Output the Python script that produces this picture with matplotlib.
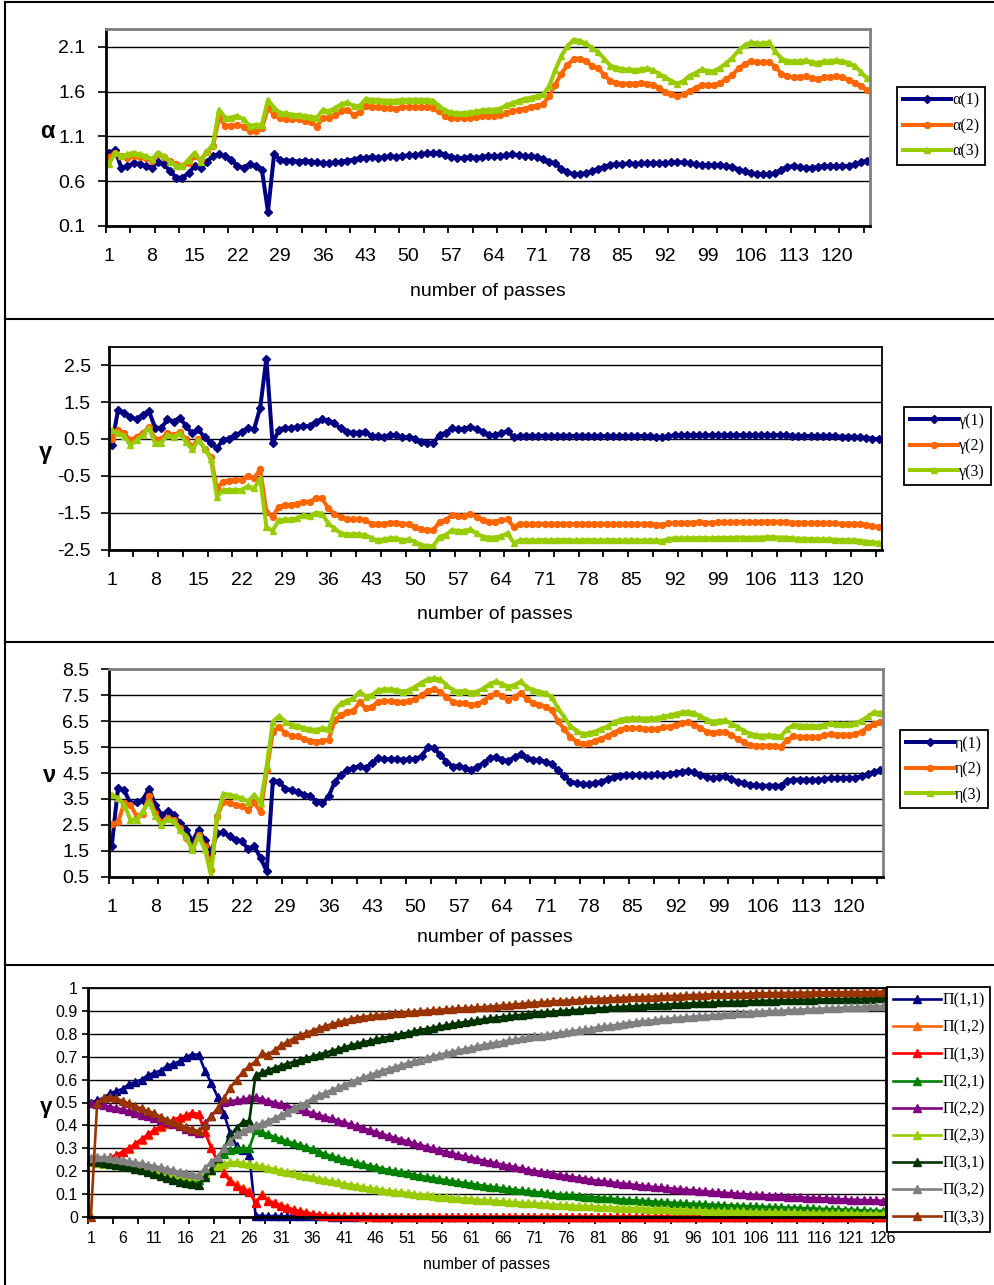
import matplotlib.pyplot as plt
from matplotlib.lines import Line2D
from matplotlib.font_manager import FontProperties

plt.rcParams['font.family'] = ['Liberation Sans', 'DejaVu Sans']

# categories (number of passes)
passes = list(range(1, 126))
passes_pi = list(range(1, 127))

# alpha panel
alpha_1 = [0.91, 0.95, 0.75, 0.77, 0.80, 0.79, 0.77, 0.75, 0.82, 0.79,
           0.71, 0.64, 0.64, 0.69, 0.77, 0.75, 0.82, 0.88, 0.90, 0.88,
           0.84, 0.77, 0.75, 0.79, 0.77, 0.73, 0.26, 0.90, 0.84, 0.83,
           0.83, 0.82, 0.83, 0.82, 0.81, 0.80, 0.80, 0.81, 0.82, 0.83,
           0.84, 0.86, 0.86, 0.87, 0.86, 0.87, 0.88, 0.87, 0.88, 0.89,
           0.89, 0.90, 0.91, 0.91, 0.92, 0.89, 0.87, 0.86, 0.86, 0.87,
           0.86, 0.87, 0.88, 0.88, 0.88, 0.89, 0.90, 0.89, 0.88, 0.88,
           0.87, 0.85, 0.82, 0.80, 0.74, 0.70, 0.68, 0.68, 0.69, 0.71,
           0.74, 0.76, 0.78, 0.79, 0.79, 0.80, 0.79, 0.80, 0.80, 0.80,
           0.80, 0.80, 0.81, 0.81, 0.81, 0.80, 0.79, 0.78, 0.78, 0.78,
           0.78, 0.77, 0.76, 0.73, 0.71, 0.69, 0.68, 0.68, 0.68, 0.69,
           0.73, 0.76, 0.77, 0.76, 0.75, 0.75, 0.76, 0.77, 0.77, 0.77,
           0.77, 0.77, 0.79, 0.81, 0.83]
alpha_2 = [0.87, 0.92, 0.88, 0.86, 0.88, 0.87, 0.86, 0.83, 0.90, 0.87,
           0.83, 0.79, 0.77, 0.80, 0.88, 0.84, 0.93, 0.99, 1.31, 1.22,
           1.22, 1.23, 1.21, 1.16, 1.16, 1.19, 1.42, 1.34, 1.31, 1.30,
           1.29, 1.29, 1.27, 1.26, 1.21, 1.31, 1.31, 1.34, 1.38, 1.40,
           1.34, 1.37, 1.44, 1.43, 1.43, 1.42, 1.42, 1.41, 1.43, 1.43,
           1.43, 1.43, 1.43, 1.42, 1.38, 1.33, 1.31, 1.31, 1.31, 1.31,
           1.32, 1.33, 1.33, 1.33, 1.34, 1.36, 1.38, 1.40, 1.41, 1.43,
           1.44, 1.46, 1.55, 1.68, 1.80, 1.90, 1.96, 1.97, 1.94, 1.89,
           1.86, 1.79, 1.72, 1.70, 1.69, 1.69, 1.69, 1.70, 1.69, 1.68,
           1.64, 1.60, 1.57, 1.55, 1.57, 1.61, 1.64, 1.68, 1.67, 1.67,
           1.70, 1.74, 1.79, 1.86, 1.91, 1.94, 1.93, 1.93, 1.93, 1.88,
           1.80, 1.77, 1.76, 1.76, 1.77, 1.75, 1.74, 1.76, 1.76, 1.77,
           1.76, 1.73, 1.70, 1.66, 1.62]
alpha_3 = [0.79, 0.92, 0.88, 0.90, 0.92, 0.90, 0.88, 0.85, 0.91, 0.88,
           0.82, 0.77, 0.77, 0.84, 0.92, 0.82, 0.93, 1.01, 1.40, 1.31,
           1.31, 1.33, 1.29, 1.22, 1.23, 1.23, 1.51, 1.42, 1.36, 1.36,
           1.34, 1.34, 1.33, 1.32, 1.31, 1.40, 1.38, 1.42, 1.46, 1.48,
           1.44, 1.44, 1.52, 1.51, 1.51, 1.50, 1.50, 1.50, 1.51, 1.51,
           1.51, 1.51, 1.51, 1.50, 1.44, 1.39, 1.37, 1.36, 1.36, 1.37,
           1.38, 1.39, 1.40, 1.40, 1.41, 1.45, 1.47, 1.50, 1.52, 1.53,
           1.55, 1.57, 1.66, 1.84, 2.00, 2.11, 2.18, 2.17, 2.14, 2.09,
           2.04, 1.97, 1.89, 1.87, 1.85, 1.85, 1.84, 1.85, 1.86, 1.84,
           1.80, 1.76, 1.72, 1.69, 1.72, 1.78, 1.81, 1.85, 1.83, 1.83,
           1.87, 1.92, 1.98, 2.06, 2.12, 2.15, 2.14, 2.14, 2.15, 2.05,
           1.97, 1.94, 1.94, 1.94, 1.95, 1.93, 1.92, 1.94, 1.94, 1.95,
           1.94, 1.92, 1.89, 1.82, 1.75]

# gamma panel
gamma_1 = [0.33, 1.28, 1.21, 1.10, 1.03, 1.15, 1.26, 0.81, 0.79, 1.03,
           0.97, 1.08, 0.85, 0.65, 0.76, 0.54, 0.38, 0.26, 0.47, 0.51,
           0.60, 0.69, 0.79, 0.76, 1.35, 2.68, 0.38, 0.74, 0.81, 0.79,
           0.83, 0.85, 0.85, 0.97, 1.03, 1.00, 0.92, 0.79, 0.69, 0.67,
           0.67, 0.69, 0.58, 0.58, 0.56, 0.60, 0.60, 0.54, 0.56, 0.51,
           0.42, 0.40, 0.40, 0.60, 0.67, 0.79, 0.76, 0.76, 0.83, 0.76,
           0.69, 0.60, 0.60, 0.65, 0.72, 0.54, 0.58, 0.59, 0.58, 0.58,
           0.59, 0.58, 0.58, 0.59, 0.58, 0.58, 0.59, 0.58, 0.58, 0.58,
           0.58, 0.57, 0.58, 0.58, 0.57, 0.58, 0.58, 0.57, 0.56, 0.55,
           0.57, 0.60, 0.60, 0.60, 0.61, 0.60, 0.60, 0.60, 0.61, 0.60,
           0.60, 0.61, 0.60, 0.60, 0.61, 0.61, 0.60, 0.61, 0.60, 0.60,
           0.59, 0.58, 0.58, 0.58, 0.58, 0.58, 0.58, 0.57, 0.56, 0.56,
           0.56, 0.54, 0.53, 0.51, 0.49]
gamma_2 = [0.51, 0.74, 0.65, 0.47, 0.56, 0.65, 0.83, 0.49, 0.49, 0.67,
           0.60, 0.69, 0.49, 0.29, 0.51, 0.24, 0.02, -0.84, -0.66, -0.63,
           -0.61, -0.60, -0.51, -0.57, -0.32, -1.47, -1.61, -1.34, -1.29, -1.29,
           -1.25, -1.20, -1.20, -1.11, -1.11, -1.38, -1.52, -1.62, -1.68, -1.68,
           -1.68, -1.70, -1.80, -1.80, -1.80, -1.77, -1.77, -1.80, -1.80, -1.88,
           -1.95, -1.97, -1.97, -1.74, -1.70, -1.56, -1.59, -1.59, -1.52, -1.61,
           -1.70, -1.74, -1.74, -1.70, -1.68, -1.88, -1.80, -1.80, -1.81, -1.80,
           -1.80, -1.81, -1.80, -1.80, -1.80, -1.81, -1.80, -1.80, -1.80, -1.81,
           -1.80, -1.80, -1.81, -1.81, -1.80, -1.81, -1.81, -1.80, -1.82, -1.83,
           -1.79, -1.77, -1.77, -1.77, -1.77, -1.76, -1.77, -1.77, -1.76, -1.76,
           -1.76, -1.75, -1.75, -1.76, -1.75, -1.75, -1.74, -1.74, -1.75, -1.75,
           -1.77, -1.77, -1.77, -1.78, -1.77, -1.78, -1.78, -1.79, -1.80, -1.80,
           -1.80, -1.81, -1.83, -1.86, -1.88]
gamma_3 = [0.74, 0.65, 0.58, 0.33, 0.47, 0.60, 0.81, 0.38, 0.40, 0.60,
           0.56, 0.65, 0.42, 0.22, 0.47, 0.24, -0.03, -1.06, -0.88, -0.88,
           -0.88, -0.88, -0.78, -0.84, -0.57, -1.88, -1.99, -1.70, -1.68, -1.68,
           -1.65, -1.56, -1.59, -1.50, -1.52, -1.79, -1.92, -2.06, -2.08, -2.08,
           -2.08, -2.10, -2.19, -2.24, -2.22, -2.19, -2.19, -2.24, -2.22, -2.28,
           -2.37, -2.40, -2.40, -2.15, -2.10, -1.97, -1.99, -1.99, -1.95, -2.06,
           -2.15, -2.17, -2.17, -2.13, -2.06, -2.31, -2.24, -2.24, -2.25, -2.24,
           -2.24, -2.25, -2.24, -2.24, -2.24, -2.25, -2.24, -2.24, -2.24, -2.25,
           -2.24, -2.24, -2.25, -2.25, -2.24, -2.25, -2.25, -2.24, -2.25, -2.26,
           -2.21, -2.19, -2.19, -2.19, -2.19, -2.18, -2.19, -2.19, -2.18, -2.18,
           -2.18, -2.17, -2.17, -2.18, -2.17, -2.17, -2.16, -2.16, -2.17, -2.17,
           -2.19, -2.20, -2.20, -2.21, -2.21, -2.22, -2.22, -2.23, -2.24, -2.24,
           -2.24, -2.26, -2.28, -2.30, -2.31]

# eta panel
eta_1 = [1.70, 3.92, 3.83, 3.34, 3.37, 3.47, 3.88, 3.28, 2.89, 3.02,
         2.89, 2.57, 2.31, 1.86, 2.31, 1.93, 1.41, 2.18, 2.21, 2.06,
         1.93, 1.86, 1.57, 1.67, 1.22, 0.71, 4.21, 4.17, 3.88, 3.85,
         3.75, 3.66, 3.62, 3.40, 3.34, 3.60, 4.17, 4.43, 4.62, 4.69,
         4.78, 4.69, 4.88, 5.07, 5.03, 5.03, 5.03, 5.01, 5.03, 5.05,
         5.14, 5.50, 5.46, 5.20, 4.94, 4.75, 4.78, 4.69, 4.60, 4.75,
         4.88, 5.07, 5.12, 5.02, 4.96, 5.12, 5.22, 5.07, 5.01, 5.00,
         4.94, 4.85, 4.60, 4.37, 4.17, 4.11, 4.08, 4.08, 4.10, 4.17,
         4.26, 4.36, 4.40, 4.43, 4.43, 4.43, 4.44, 4.43, 4.45, 4.44,
         4.47, 4.50, 4.55, 4.58, 4.52, 4.43, 4.34, 4.30, 4.34, 4.37,
         4.26, 4.17, 4.11, 4.05, 4.02, 4.01, 4.01, 4.01, 4.01, 4.21,
         4.24, 4.24, 4.24, 4.24, 4.24, 4.26, 4.30, 4.30, 4.30, 4.30,
         4.32, 4.37, 4.45, 4.55, 4.60]
eta_2 = [2.54, 2.60, 3.34, 3.28, 2.83, 2.93, 3.60, 2.96, 2.60, 2.76,
         2.70, 2.38, 1.99, 1.57, 2.12, 1.70, 0.77, 2.83, 3.40, 3.34,
         3.28, 3.21, 3.08, 3.37, 2.98, 4.60, 6.10, 6.27, 6.04, 5.93,
         5.91, 5.80, 5.75, 5.71, 5.75, 5.78, 6.55, 6.74, 6.87, 6.91,
         7.22, 7.00, 7.06, 7.25, 7.28, 7.28, 7.25, 7.22, 7.29, 7.34,
         7.51, 7.68, 7.73, 7.64, 7.45, 7.25, 7.19, 7.19, 7.13, 7.15,
         7.29, 7.47, 7.58, 7.47, 7.32, 7.45, 7.58, 7.35, 7.20, 7.13,
         7.06, 6.93, 6.50, 6.20, 5.90, 5.71, 5.62, 5.65, 5.75, 5.83,
         5.93, 6.06, 6.17, 6.23, 6.23, 6.23, 6.20, 6.19, 6.20, 6.27,
         6.29, 6.36, 6.43, 6.46, 6.36, 6.23, 6.10, 6.06, 6.08, 6.10,
         5.95, 5.82, 5.68, 5.59, 5.55, 5.55, 5.56, 5.55, 5.52, 5.78,
         5.91, 5.90, 5.88, 5.90, 5.88, 5.95, 6.01, 5.98, 5.98, 5.97,
         6.00, 6.10, 6.26, 6.40, 6.48]
eta_3 = [3.66, 3.53, 3.28, 2.70, 2.70, 3.02, 3.40, 2.83, 2.50, 2.72,
         2.63, 2.31, 2.06, 1.52, 2.06, 1.57, 0.58, 2.83, 3.70, 3.66,
         3.60, 3.53, 3.40, 3.66, 3.34, 4.78, 6.48, 6.70, 6.48, 6.36,
         6.32, 6.23, 6.19, 6.16, 6.23, 6.19, 6.93, 7.19, 7.29, 7.38,
         7.64, 7.45, 7.51, 7.70, 7.73, 7.73, 7.70, 7.64, 7.70, 7.83,
         7.99, 8.11, 8.15, 8.11, 7.90, 7.70, 7.64, 7.68, 7.60, 7.64,
         7.77, 7.94, 8.03, 7.94, 7.83, 7.90, 8.03, 7.80, 7.70, 7.64,
         7.58, 7.42, 7.00, 6.65, 6.32, 6.12, 6.01, 6.03, 6.10, 6.20,
         6.30, 6.45, 6.55, 6.60, 6.61, 6.61, 6.60, 6.61, 6.62, 6.68,
         6.72, 6.78, 6.84, 6.87, 6.80, 6.70, 6.55, 6.48, 6.52, 6.53,
         6.40, 6.28, 6.12, 6.02, 5.96, 5.94, 5.95, 5.94, 5.92, 6.20,
         6.35, 6.33, 6.32, 6.32, 6.30, 6.36, 6.42, 6.40, 6.40, 6.40,
         6.43, 6.52, 6.68, 6.85, 6.82]

# transition probabilities panel
pi_11 = [0.50, 0.51, 0.52, 0.54, 0.55, 0.56, 0.58, 0.59, 0.60, 0.62,
         0.63, 0.64, 0.66, 0.67, 0.68, 0.70, 0.71, 0.71, 0.64, 0.585,
         0.525, 0.45, 0.365, 0.31, 0.29, 0.27, 0.005, 0.004, 0.003, 0.003,
         0.002, 0.002, 0.002, 0.001, 0.001, 0.001, 0.001, 0.001, 0.0, 0.0,
         0.0, 0.0, 0.0, 0.0, 0.0, 0.0, 0.0, 0.0, 0.0, 0.0,
         0.0, 0.0, 0.0, 0.0, 0.0, 0.0, 0.0, 0.0, 0.0, 0.0,
         0.0, 0.0, 0.0, 0.0, 0.0, 0.0, 0.0, 0.0, 0.0, 0.0,
         0.0, 0.0, 0.0, 0.0, 0.0, 0.0, 0.0, 0.0, 0.0, 0.0,
         0.0, 0.0, 0.0, 0.0, 0.0, 0.0, 0.0, 0.0, 0.0, 0.0,
         0.0, 0.0, 0.0, 0.0, 0.0, 0.0, 0.0, 0.0, 0.0, 0.0,
         0.0, 0.0, 0.0, 0.0, 0.0, 0.0, 0.0, 0.0, 0.0, 0.0,
         0.0, 0.0, 0.0, 0.0, 0.0, 0.0, 0.0, 0.0, 0.0, 0.0,
         0.0, 0.0, 0.0, 0.0, 0.0, 0.0]
pi_12 = [0.25, 0.25, 0.253, 0.258, 0.268, 0.283, 0.298, 0.318, 0.338, 0.358,
         0.378, 0.393, 0.408, 0.423, 0.433, 0.443, 0.452, 0.448, 0.375, 0.305,
         0.245, 0.196, 0.160, 0.142, 0.126, 0.114, 0.066, 0.098, 0.072, 0.062,
         0.052, 0.042, 0.032, 0.025, 0.019, 0.013, 0.009, 0.006, 0.004, 0.002,
         0.001, 0.001, 0.001, 0.0, 0.0, 0.0, 0.0, 0.0, 0.0, 0.0,
         0.0, 0.0, 0.0, 0.0, 0.0, 0.0, 0.0, 0.0, 0.0, 0.0,
         0.0, 0.0, 0.0, 0.0, 0.0, 0.0, 0.0, 0.0, 0.0, 0.0,
         0.0, 0.0, 0.0, 0.0, 0.0, 0.0, 0.0, 0.0, 0.0, 0.0,
         0.0, 0.0, 0.0, 0.0, 0.0, 0.0, 0.0, 0.0, 0.0, 0.0,
         0.0, 0.0, 0.0, 0.0, 0.0, 0.0, 0.0, 0.0, 0.0, 0.0,
         0.0, 0.0, 0.0, 0.0, 0.0, 0.0, 0.0, 0.0, 0.0, 0.0,
         0.0, 0.0, 0.0, 0.0, 0.0, 0.0, 0.0, 0.0, 0.0, 0.0,
         0.0, 0.0, 0.0, 0.0, 0.0, 0.0]
pi_13 = [0.25, 0.25, 0.255, 0.26, 0.27, 0.285, 0.30, 0.32, 0.34, 0.36,
         0.38, 0.395, 0.41, 0.425, 0.435, 0.445, 0.455, 0.45, 0.37, 0.30,
         0.24, 0.19, 0.155, 0.135, 0.12, 0.108, 0.06, 0.095, 0.068, 0.058,
         0.048, 0.04, 0.03, 0.024, 0.018, 0.012, 0.008, 0.005, 0.003, 0.002,
         0.001, 0.001, 0.001, 0.001, 0.001, 0.0, 0.0, 0.0, 0.0, 0.0,
         0.0, 0.0, 0.0, 0.0, 0.0, 0.0, 0.0, 0.0, 0.0, 0.0,
         0.0, 0.0, 0.0, 0.0, 0.0, 0.0, 0.0, 0.0, 0.0, 0.0,
         0.0, 0.0, 0.0, 0.0, 0.0, 0.0, 0.0, 0.0, 0.0, 0.0,
         0.0, 0.0, 0.0, 0.0, 0.0, 0.0, 0.0, 0.0, 0.0, 0.0,
         0.0, 0.0, 0.0, 0.0, 0.0, 0.0, 0.0, 0.0, 0.0, 0.0,
         0.0, 0.0, 0.0, 0.0, 0.0, 0.0, 0.0, 0.0, 0.0, 0.0,
         0.0, 0.0, 0.0, 0.0, 0.0, 0.0, 0.0, 0.0, 0.0, 0.0,
         0.0, 0.0, 0.0, 0.0, 0.0, 0.0]
pi_21 = [0.25, 0.245, 0.24, 0.235, 0.23, 0.225, 0.22, 0.214, 0.208, 0.201,
         0.195, 0.189, 0.183, 0.177, 0.171, 0.166, 0.162, 0.16, 0.183, 0.204,
         0.235, 0.275, 0.29, 0.295, 0.30, 0.30, 0.38, 0.37, 0.36, 0.35,
         0.34, 0.33, 0.322, 0.314, 0.305, 0.296, 0.285, 0.275, 0.265, 0.258,
         0.25, 0.243, 0.236, 0.229, 0.223, 0.217, 0.211, 0.205, 0.20, 0.195,
         0.19, 0.184, 0.179, 0.174, 0.169, 0.165, 0.16, 0.156, 0.152, 0.148,
         0.144, 0.14, 0.136, 0.132, 0.128, 0.125, 0.121, 0.118, 0.115, 0.112,
         0.109, 0.106, 0.103, 0.10, 0.097, 0.095, 0.093, 0.09, 0.088, 0.086,
         0.084, 0.082, 0.08, 0.077, 0.075, 0.073, 0.071, 0.07, 0.068, 0.066,
         0.065, 0.063, 0.061, 0.06, 0.058, 0.057, 0.056, 0.054, 0.053, 0.052,
         0.05, 0.049, 0.048, 0.047, 0.046, 0.045, 0.044, 0.043, 0.042, 0.041,
         0.04, 0.039, 0.038, 0.037, 0.036, 0.035, 0.034, 0.033, 0.032, 0.031,
         0.03, 0.029, 0.028, 0.027, 0.026, 0.025]
pi_22 = [0.497, 0.492, 0.487, 0.482, 0.476, 0.47, 0.462, 0.455, 0.447, 0.439,
         0.431, 0.422, 0.413, 0.404, 0.395, 0.386, 0.375, 0.366, 0.41, 0.44,
         0.47, 0.503, 0.506, 0.51, 0.514, 0.518, 0.522, 0.515, 0.508, 0.50,
         0.492, 0.485, 0.477, 0.47, 0.462, 0.454, 0.446, 0.438, 0.43, 0.421,
         0.413, 0.404, 0.396, 0.387, 0.379, 0.371, 0.362, 0.354, 0.346, 0.338,
         0.33, 0.322, 0.314, 0.307, 0.299, 0.292, 0.285, 0.278, 0.271, 0.264,
         0.258, 0.252, 0.246, 0.24, 0.234, 0.228, 0.223, 0.217, 0.212, 0.206,
         0.201, 0.196, 0.191, 0.187, 0.182, 0.178, 0.174, 0.17, 0.166, 0.162,
         0.158, 0.155, 0.151, 0.148, 0.145, 0.142, 0.139, 0.136, 0.133, 0.13,
         0.128, 0.125, 0.123, 0.12, 0.118, 0.116, 0.114, 0.111, 0.109, 0.107,
         0.105, 0.103, 0.101, 0.099, 0.097, 0.095, 0.094, 0.092, 0.091, 0.089,
         0.088, 0.086, 0.085, 0.083, 0.082, 0.081, 0.08, 0.078, 0.077, 0.076,
         0.075, 0.074, 0.073, 0.072, 0.071, 0.07]
pi_23 = [0.24, 0.235, 0.232, 0.229, 0.226, 0.223, 0.22, 0.217, 0.213, 0.209,
         0.205, 0.201, 0.197, 0.193, 0.188, 0.184, 0.18, 0.178, 0.19, 0.205,
         0.222, 0.232, 0.238, 0.24, 0.235, 0.23, 0.226, 0.221, 0.215, 0.209,
         0.202, 0.196, 0.19, 0.184, 0.179, 0.173, 0.167, 0.161, 0.155, 0.15,
         0.145, 0.14, 0.135, 0.13, 0.126, 0.122, 0.118, 0.114, 0.11, 0.107,
         0.104, 0.10, 0.097, 0.094, 0.091, 0.088, 0.086, 0.083, 0.081, 0.079,
         0.077, 0.075, 0.073, 0.071, 0.069, 0.067, 0.065, 0.063, 0.061, 0.06,
         0.058, 0.056, 0.055, 0.053, 0.052, 0.05, 0.049, 0.047, 0.046, 0.045,
         0.044, 0.042, 0.041, 0.04, 0.039, 0.038, 0.037, 0.036, 0.035, 0.034,
         0.033, 0.032, 0.031, 0.03, 0.03, 0.029, 0.028, 0.027, 0.026, 0.026,
         0.025, 0.024, 0.024, 0.023, 0.022, 0.022, 0.021, 0.021, 0.02, 0.02,
         0.019, 0.019, 0.018, 0.018, 0.017, 0.017, 0.016, 0.016, 0.016, 0.015,
         0.015, 0.014, 0.014, 0.014, 0.013, 0.013]
pi_31 = [0.245, 0.24, 0.235, 0.23, 0.226, 0.22, 0.216, 0.211, 0.203, 0.194,
         0.185, 0.177, 0.169, 0.16, 0.152, 0.146, 0.142, 0.14, 0.175, 0.204,
         0.255, 0.30, 0.355, 0.39, 0.415, 0.42, 0.62, 0.632, 0.643, 0.652,
         0.661, 0.67, 0.678, 0.686, 0.694, 0.702, 0.71, 0.718, 0.726, 0.734,
         0.742, 0.75, 0.757, 0.764, 0.77, 0.776, 0.782, 0.788, 0.794, 0.80,
         0.806, 0.812, 0.818, 0.823, 0.828, 0.833, 0.838, 0.843, 0.848, 0.852,
         0.856, 0.86, 0.864, 0.868, 0.872, 0.875, 0.878, 0.881, 0.884, 0.887,
         0.89, 0.893, 0.895, 0.898, 0.90, 0.902, 0.904, 0.906, 0.908, 0.91,
         0.912, 0.914, 0.916, 0.918, 0.919, 0.921, 0.922, 0.924, 0.925, 0.927,
         0.928, 0.929, 0.93, 0.932, 0.933, 0.934, 0.935, 0.936, 0.937, 0.938,
         0.939, 0.94, 0.941, 0.942, 0.943, 0.944, 0.945, 0.946, 0.946, 0.947,
         0.948, 0.948, 0.949, 0.95, 0.95, 0.951, 0.952, 0.952, 0.953, 0.953,
         0.954, 0.954, 0.955, 0.955, 0.956, 0.956]
pi_32 = [0.255, 0.263, 0.26, 0.257, 0.253, 0.248, 0.243, 0.238, 0.233, 0.228,
         0.222, 0.216, 0.21, 0.203, 0.197, 0.19, 0.185, 0.183, 0.212, 0.24,
         0.263, 0.30, 0.333, 0.36, 0.375, 0.39, 0.40, 0.409, 0.42, 0.432,
         0.445, 0.46, 0.476, 0.49, 0.50, 0.52, 0.533, 0.543, 0.555, 0.566,
         0.578, 0.59, 0.60, 0.61, 0.62, 0.63, 0.64, 0.648, 0.656, 0.664,
         0.672, 0.68, 0.688, 0.695, 0.702, 0.709, 0.716, 0.722, 0.728, 0.734,
         0.74, 0.746, 0.752, 0.757, 0.762, 0.767, 0.772, 0.776, 0.781, 0.785,
         0.789, 0.793, 0.797, 0.801, 0.805, 0.809, 0.813, 0.817, 0.82, 0.823,
         0.83, 0.833, 0.837, 0.84, 0.845, 0.849, 0.852, 0.855, 0.858, 0.861,
         0.864, 0.866, 0.869, 0.871, 0.874, 0.876, 0.878, 0.88, 0.882, 0.884,
         0.886, 0.888, 0.89, 0.892, 0.894, 0.896, 0.898, 0.899, 0.901, 0.902,
         0.904, 0.905, 0.907, 0.908, 0.909, 0.911, 0.912, 0.913, 0.914, 0.916,
         0.917, 0.918, 0.919, 0.921, 0.922, 0.923]
pi_33 = [0.0, 0.50, 0.52, 0.525, 0.518, 0.507, 0.496, 0.485, 0.474, 0.463,
         0.453, 0.438, 0.425, 0.413, 0.403, 0.393, 0.383, 0.375, 0.40, 0.44,
         0.475, 0.518, 0.565, 0.60, 0.635, 0.66, 0.68, 0.715, 0.71, 0.73,
         0.75, 0.765, 0.78, 0.795, 0.805, 0.815, 0.825, 0.835, 0.843, 0.851,
         0.858, 0.865, 0.872, 0.875, 0.878, 0.881, 0.884, 0.887, 0.89, 0.892,
         0.895, 0.897, 0.90, 0.902, 0.904, 0.906, 0.908, 0.91, 0.912, 0.913,
         0.915, 0.917, 0.918, 0.92, 0.922, 0.925, 0.927, 0.93, 0.932, 0.935,
         0.937, 0.939, 0.941, 0.943, 0.945, 0.946, 0.948, 0.949, 0.951, 0.952,
         0.954, 0.955, 0.956, 0.958, 0.959, 0.96, 0.961, 0.962, 0.963, 0.964,
         0.965, 0.966, 0.967, 0.968, 0.969, 0.971, 0.971, 0.972, 0.973, 0.973,
         0.974, 0.975, 0.975, 0.976, 0.977, 0.978, 0.978, 0.979, 0.979, 0.98,
         0.98, 0.981, 0.981, 0.981, 0.982, 0.982, 0.982, 0.983, 0.983, 0.983,
         0.984, 0.984, 0.984, 0.984, 0.985, 0.985]

alpha_ticks = [0.1, 0.6, 1.1, 1.6, 2.1]
alpha_ticklabels = ['0.1', '0.6', '1.1', '1.6', '2.1']
gamma_ticks = [-2.5, -1.5, -0.5, 0.5, 1.5, 2.5]
gamma_ticklabels = ['-2.5', '-1.5', '-0.5', '0.5', '1.5', '2.5']
eta_ticks = [0.5, 1.5, 2.5, 3.5, 4.5, 5.5, 6.5, 7.5, 8.5]
eta_ticklabels = ['0.5', '1.5', '2.5', '3.5', '4.5', '5.5', '6.5', '7.5', '8.5']
pi_ticks = [0, 0.1, 0.2, 0.3, 0.4, 0.5, 0.6, 0.7, 0.8, 0.9, 1.0]
pi_ticklabels = ['0', '0.1', '0.2', '0.3', '0.4', '0.5', '0.6', '0.7', '0.8', '0.9', '1']
xlabels_abc = list(range(1, 126, 7))
xlabels_pi = list(range(1, 127, 5))

NAVY, ORANGE, LIME = '#000080', '#FF6600', '#99CC00'
pi_colors = ['#000080', '#FF6600', '#FF0000', '#008000', '#800080',
             '#99CC00', '#003300', '#808080', '#993300']

W, H = 995, 1285
fig = plt.figure(figsize=(W / 100, H / 100), dpi=100)


def px_box(l, t, r, b):
    return [l / W, 1 - b / H, (r - l) / W, (b - t) / H]


def style_axes(ax, ylim, yticks, yticklabels, nx, xlabels, frame, tick_font, xpad, ypad, ylen):
    ax.set_xlim(0.5, nx + 0.5)
    ax.set_ylim(*ylim)
    ax.set_yticks(yticks)
    ax.set_yticklabels(yticklabels)
    ax.set_xticks(xlabels)
    ax.set_xticklabels([str(v) for v in xlabels])
    ax.set_xticks([0.5 + 4 * k for k in range(32)], minor=True)
    ax.tick_params(axis='x', which='major', length=0, pad=xpad)
    ax.tick_params(axis='x', which='minor', length=5, width=1.3, direction='out')
    ax.tick_params(axis='y', length=ylen, width=1.2, pad=ypad)
    for lab in ax.get_xticklabels() + ax.get_yticklabels():
        lab.set_fontproperties(tick_font)
    ax.yaxis.grid(True, color='black', lw=1.0)
    ax.set_axisbelow(True)
    ax.spines['left'].set_linewidth(2)
    ax.spines['bottom'].set_linewidth(2)
    for s in ['top', 'right']:
        ax.spines[s].set_color(frame)
        ax.spines[s].set_linewidth(2 if frame != 'black' else 1.3)


def add_legend(ax, left, top, spacing):
    leg = ax.legend(loc='upper left', bbox_to_anchor=(left / W, 1 - top / H),
                    bbox_transform=fig.transFigure, borderaxespad=0,
                    prop={'family': 'Liberation Serif', 'size': 11.5},
                    handlelength=3.0, handletextpad=0.1, borderpad=0.35,
                    labelspacing=spacing, fancybox=False, framealpha=1)
    leg.get_frame().set_edgecolor('black')
    leg.get_frame().set_linewidth(1.3)


big_fp = FontProperties(family=['Liberation Sans', 'DejaVu Sans'], size=14)
narrow_fp = FontProperties(family=['Liberation Sans Narrow', 'Liberation Sans', 'DejaVu Sans'],
                           size=11.5)

# ---- panel 1: alpha
ax1 = fig.add_axes(px_box(106, 29, 870, 226))
ax1.plot(passes, alpha_1, color=NAVY, lw=2.9, marker='D', ms=3.8, label='α(1)')
ax1.plot(passes, alpha_2, color=ORANGE, lw=2.9, marker='o', ms=4.3, label='α(2)')
ax1.plot(passes, alpha_3, color=LIME, lw=2.9, marker='^', ms=4.8, label='α(3)')
style_axes(ax1, (0.1, 2.3), alpha_ticks, alpha_ticklabels, 125, xlabels_abc,
           '#808080', big_fp, 16, 9, 6)
add_legend(ax1, 897, 87, 0.6)

# ---- panel 2: gamma
ax2 = fig.add_axes(px_box(108.7, 346.7, 881.7, 549.7))
ax2.plot(passes, gamma_1, color=NAVY, lw=2.9, marker='D', ms=3.8, label='γ(1)')
ax2.plot(passes, gamma_2, color=ORANGE, lw=2.9, marker='o', ms=4.3, label='γ(2)')
ax2.plot(passes, gamma_3, color=LIME, lw=2.9, marker='^', ms=4.8, label='γ(3)')
style_axes(ax2, (-2.5, 3.0), gamma_ticks, gamma_ticklabels, 125, xlabels_abc,
           'black', big_fp, 16, 7, 6)
add_legend(ax2, 904, 407, 0.6)

# ---- panel 3: eta
ax3 = fig.add_axes(px_box(108.7, 669.3, 883.3, 876.7))
ax3.plot(passes, eta_1, color=NAVY, lw=2.9, marker='D', ms=3.8, label='η(1)')
ax3.plot(passes, eta_2, color=ORANGE, lw=2.9, marker='o', ms=4.3, label='η(2)')
ax3.plot(passes, eta_3, color=LIME, lw=2.9, marker='^', ms=4.8, label='η(3)')
style_axes(ax3, (0.5, 8.5), eta_ticks, eta_ticklabels, 125, xlabels_abc,
           '#808080', big_fp, 16, 8, 6)
add_legend(ax3, 900, 730, 0.6)

# ---- panel 4: transition probabilities
ax4 = fig.add_axes(px_box(87.7, 988.3, 886, 1216.7))
pi_series = [pi_11, pi_12, pi_13, pi_21, pi_22, pi_23, pi_31, pi_32, pi_33]
pi_names = ['Π(1,1)', 'Π(1,2)', 'Π(1,3)', 'Π(2,1)', 'Π(2,2)', 'Π(2,3)',
            'Π(3,1)', 'Π(3,2)', 'Π(3,3)']
for vals, col, name in zip(pi_series, pi_colors, pi_names):
    ax4.plot(passes_pi, vals, color=col, lw=1.9, marker='^', ms=5.8, label=name,
             clip_on=False)
style_axes(ax4, (0, 1), pi_ticks, pi_ticklabels, 126, xlabels_pi,
           'black', narrow_fp, 10, 3, 4)
add_legend(ax4, 887, 987, 0.7)

# axis names
fig.text(47 / W, 1 - 131 / H, 'α', fontsize=17, fontweight='bold', ha='center', va='center')
fig.text(45 / W, 1 - 452 / H, 'γ', fontsize=17, fontweight='bold', ha='center', va='center')
fig.text(50 / W, 1 - 775 / H, 'ν', fontsize=17, fontweight='bold', ha='center', va='center')
fig.text(46 / W, 1 - 1107 / H, 'γ', fontsize=16, fontweight='bold', ha='center', va='center')

fig.text(488 / W, 1 - 291 / H, 'number of passes', fontproperties=big_fp, ha='center', va='center')
fig.text(495 / W, 1 - 614 / H, 'number of passes', fontproperties=big_fp, ha='center', va='center')
fig.text(495 / W, 1 - 938 / H, 'number of passes', fontproperties=big_fp, ha='center', va='center')
fig.text(487 / W, 1 - 1264 / H, 'number of passes', fontproperties=narrow_fp, ha='center', va='center')

# outer frame and separators
for y in [1.5, 318.5, 641.5, 965]:
    fig.add_artist(Line2D([5 / W, 1], [1 - y / H, 1 - y / H], transform=fig.transFigure,
                          color='black', lw=1.5))
fig.add_artist(Line2D([5 / W, 5 / W], [0, 1 - 1.5 / H], transform=fig.transFigure,
                      color='black', lw=1.5))

fig.savefig('out.png', dpi=100)
